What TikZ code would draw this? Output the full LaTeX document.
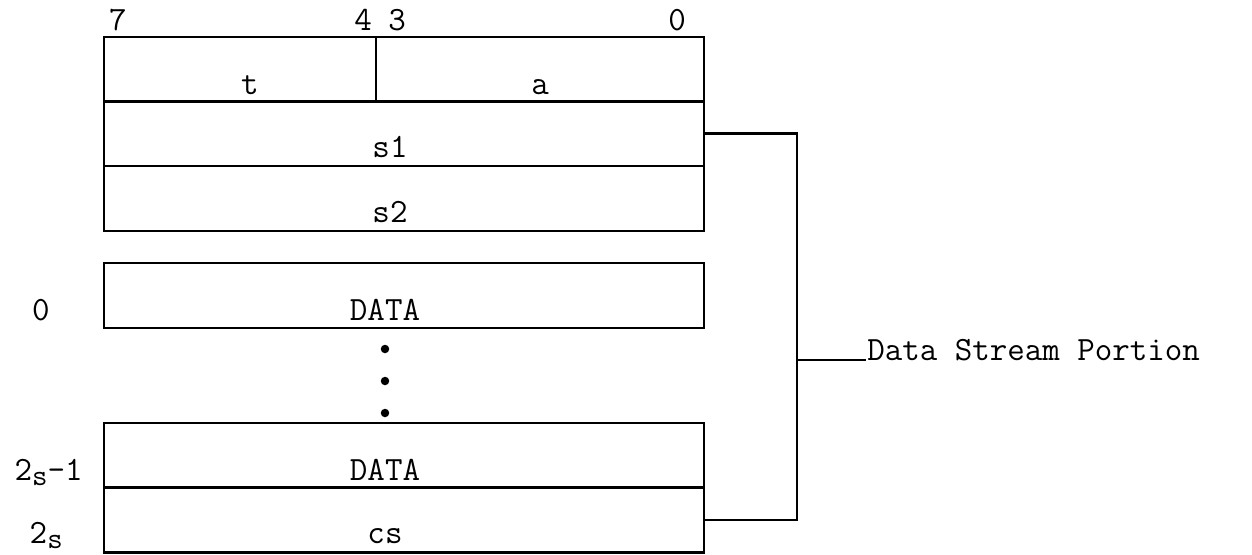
\documentclass[tikz,border=0pt]{standalone}
\usetikzlibrary{calc, positioning}

\begin{document}
\begin{tikzpicture}[
    x=0.5pt, y=-0.5pt,
    line width=1.3pt,
    fld/.style={draw, rectangle, inner sep=0pt, outer sep=0pt, minimum height=32.5pt}, % Style for one byte row
    txt/.style={font=\fontsize{17}{20}\ttfamily, inner sep=0pt, anchor=base}, % Style for typed labels
    dot/.style={fill, circle, inner sep=1.5pt}
]

    % Bounding box with margins of the reference
    \useasboundingbox (0,0) rectangle (1252,554);

    % Bit numbers
    \node[txt] (b7) at (118,30) {7};
    \node[txt] (b4) at (363,30) {4};
    \node[txt] (b3) at (397,30) {3};
    \node[txt] (b0) at (677,30) {0};

    % Header byte: t | a
    \node[fld, minimum width=136pt] (tf) at (240,69.5) {};
    \node[fld, minimum width=164pt] (af) at (540,69.5) {};
    \node[txt] (tl) at (250,94) {t};
    \node[txt] (al) at (540,94) {a};

    % Size bytes
    \node[fld, minimum width=300pt] (s1) at (404,133.5) {};
    \node[fld, minimum width=300pt] (s2) at (404,198.5) {};
    \node[txt] (s1l) at ($(s1.south)+(-14,-9)$) {s1};
    \node[txt] (s2l) at ($(s2.south)+(-14,-9)$) {s2};

    % Data bytes
    \node[fld, minimum width=300pt] (d0) at (404,295.5) {};
    \node[fld, minimum width=300pt] (dn) at (404,455.5) {};
    \node[fld, minimum width=300pt] (cs) at (404,520) {};
    \node[txt] (d0l) at ($(d0.south)+(-19,-8)$) {DATA};
    \node[txt] (dnl) at ($(dn.south)+(-19,-8)$) {DATA};
    \node[txt] (csl) at ($(cs.south)+(-19,-9)$) {cs};

    % Byte indices
    \node[txt] (i0) at (41,320) {0};
    \node[txt, anchor=base east] (in1) at (84,480) {2\raisebox{-0.4ex}{\fontsize{15}{17}\selectfont s}-1};
    \node[txt, anchor=base east] (in) at (64,543) {2\raisebox{-0.4ex}{\fontsize{15}{17}\selectfont s}};

    % Ellipsis
    \foreach \yy [count=\i] in {349,381,413}
        \node[dot] (e\i) at (385,\yy) {};

    % Bracket to the data stream label
    \coordinate (bus) at (797,360);
    \node[txt, anchor=base west] (dsp) at (866,360) {Data Stream Portion};
    \draw (s1.east) -| (bus);
    \draw (cs.east) -| (bus);
    \draw (bus) -- (dsp.base west);

\end{tikzpicture}
\end{document}
